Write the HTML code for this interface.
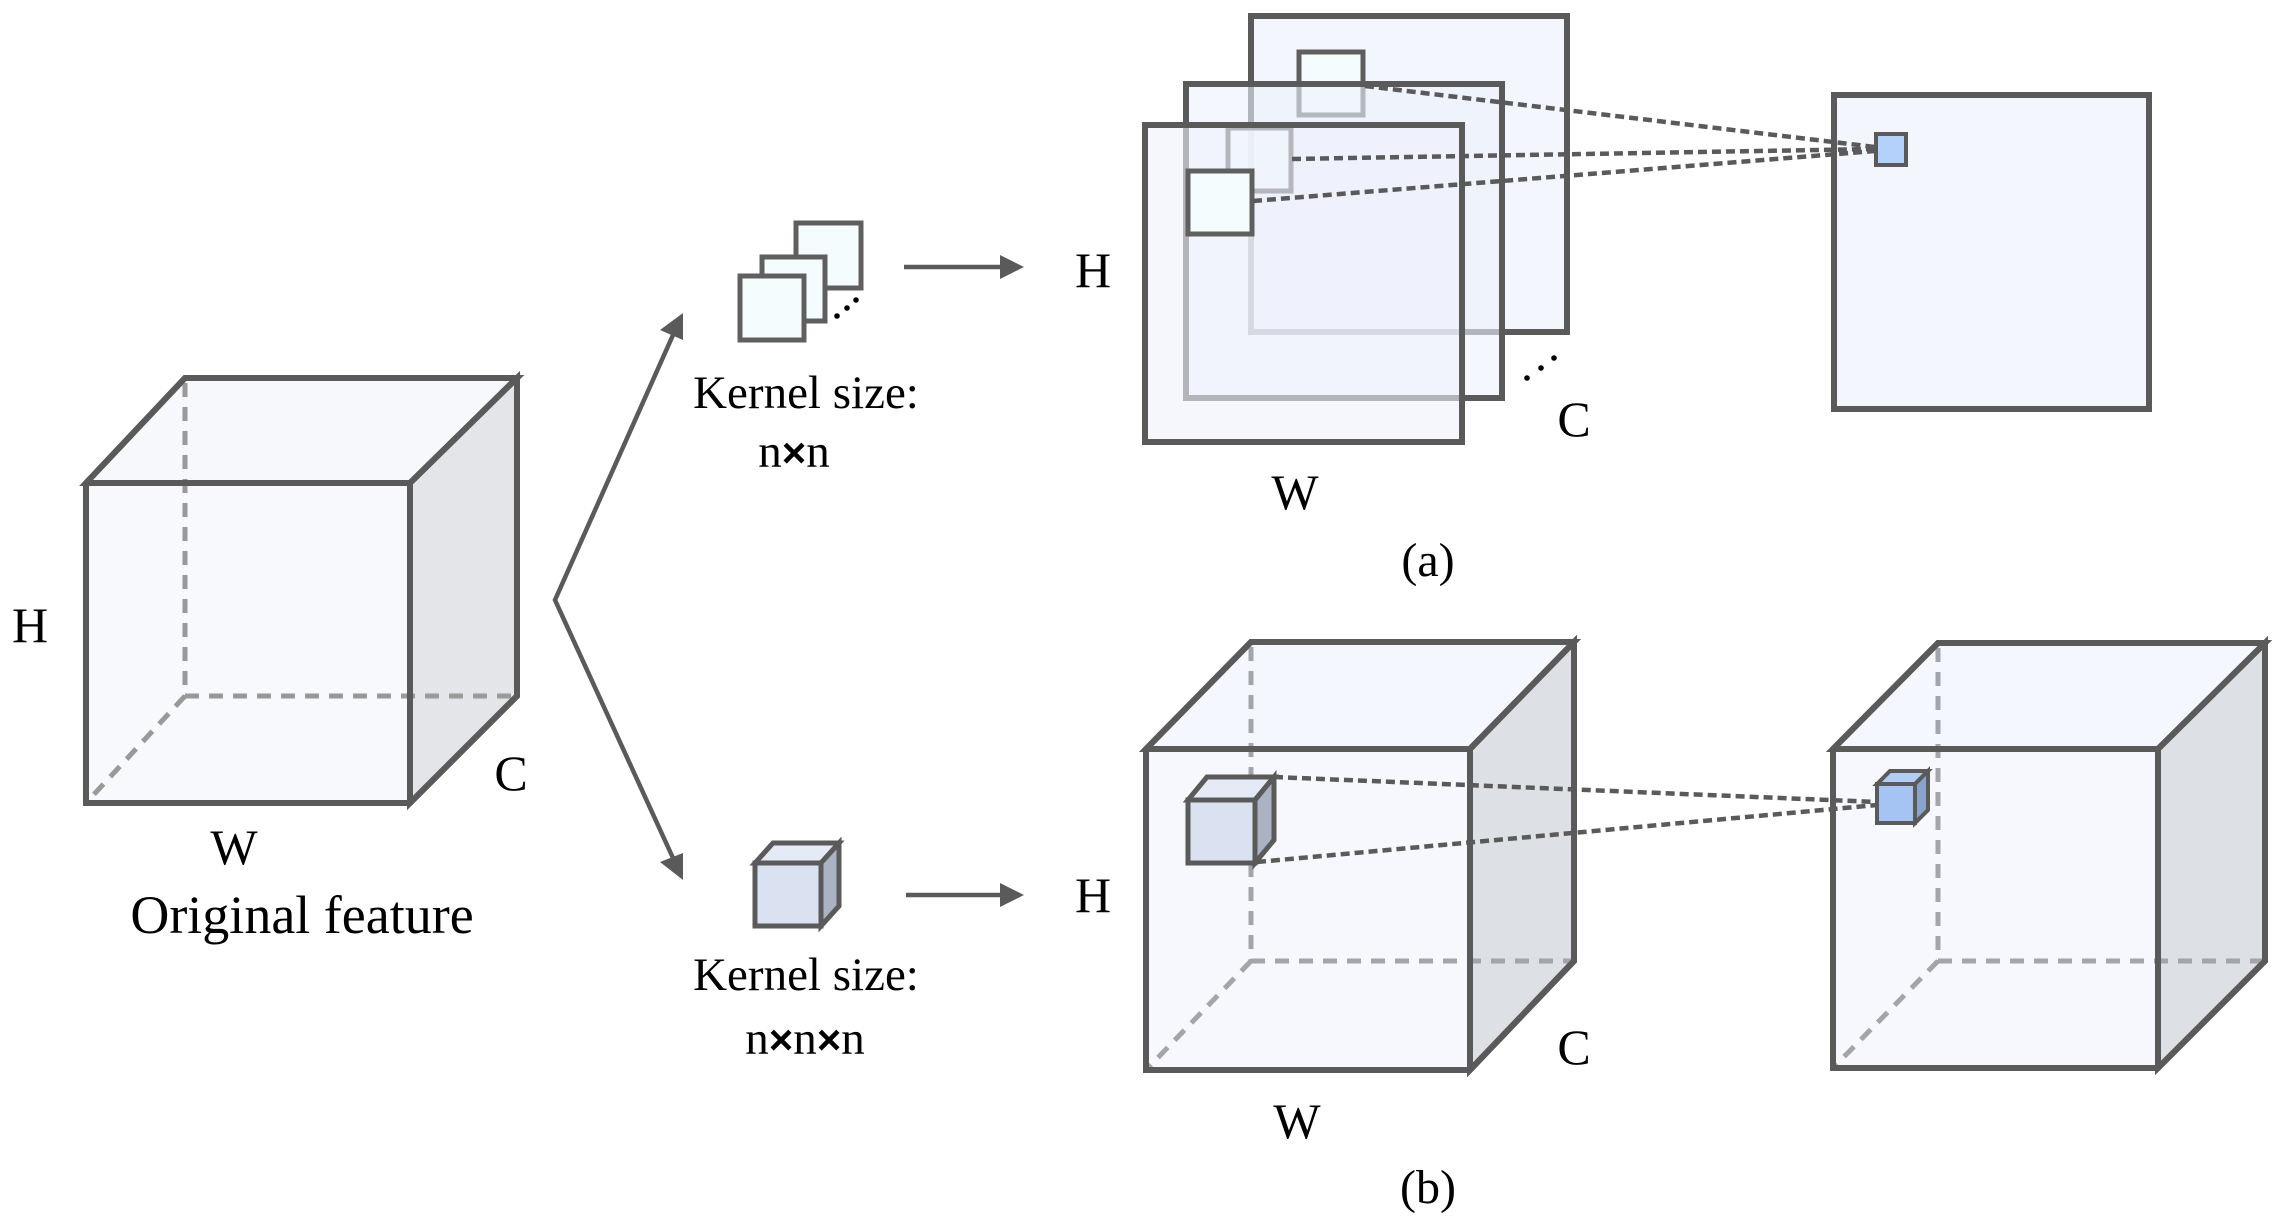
<!DOCTYPE html>
<html><head><meta charset="utf-8"><style>
html,body{margin:0;padding:0;background:#fff;}
svg{display:block;}
text{font-family:"Liberation Serif",serif;fill:#000;}
</style></head><body>
<svg width="2289" height="1225" viewBox="0 0 2289 1225" xmlns="http://www.w3.org/2000/svg">
<g stroke-linejoin="miter">
<!-- Original cube -->
<polygon points="86,483 185,378 517,378 410,483" fill="#f7f8fc" stroke="#5a5a5a" stroke-width="6"/>
<polygon points="410,483 517,378 517,696 410,803" fill="#e3e5e9" stroke="#5a5a5a" stroke-width="6"/>
<rect x="86" y="483" width="324" height="320" fill="#f7f8fc" fill-opacity="0.9" stroke="none"/>
<g stroke="#999" stroke-width="5" stroke-dasharray="14,10" fill="none">
<line x1="185" y1="383" x2="185" y2="696"/>
<line x1="185" y1="696" x2="517" y2="696"/>
<line x1="185" y1="696" x2="86" y2="803"/>
</g>
<polygon points="86,483 185,378 517,378 517,696 410,803 86,803" fill="none" stroke="#5a5a5a" stroke-width="6"/>
<polyline points="86,483 410,483 517,378" fill="none" stroke="#5a5a5a" stroke-width="6"/>
<line x1="410" y1="483" x2="410" y2="803" stroke="#5a5a5a" stroke-width="6"/>

<!-- branch arrows -->
<polyline points="673,335 555,600 673,858" fill="none" stroke="#5a5a5a" stroke-width="4.5"/>
<polygon points="683,313 683,340 660,330" fill="#5a5a5a"/>
<polygon points="683,880 683,853 660,862" fill="#5a5a5a"/>

<!-- kernels (a) -->
<rect x="796" y="223" width="65" height="65" fill="#f4fcfd" stroke="#5f5f5f" stroke-width="5"/>
<rect x="762" y="257" width="63" height="64" fill="#f4fcfd" stroke="#5f5f5f" stroke-width="5"/>
<rect x="740" y="276" width="64" height="64" fill="#f4fcfd" stroke="#5f5f5f" stroke-width="5"/>
<circle cx="837" cy="316" r="2.8" fill="#000"/><circle cx="847" cy="308" r="2.8" fill="#000"/><circle cx="856" cy="300" r="2.8" fill="#000"/>

<!-- arrow (a) -->
<line x1="904" y1="267" x2="1002" y2="267" stroke="#5a5a5a" stroke-width="4.5"/>
<polygon points="1024,267 1000,255 1000,279" fill="#5a5a5a"/>

<!-- planes (a) -->
<rect x="1251" y="16" width="316" height="316" fill="#f3f6fd" stroke="#5a5a5a" stroke-width="6"/>
<rect x="1299" y="52" width="64" height="63" fill="#f4fcfd" stroke="#5f5f5f" stroke-width="5"/>
<rect x="1186" y="84" width="316" height="314" fill="#edf1fb" fill-opacity="0.6" stroke="#5a5a5a" stroke-width="6"/>
<rect x="1228" y="128" width="63" height="63" fill="#f4fcfd" fill-opacity="0.7" stroke="#5f5f5f" stroke-width="5"/>
<rect x="1145" y="125" width="317" height="317" fill="#eef2fb" fill-opacity="0.6" stroke="#5a5a5a" stroke-width="6"/>
<rect x="1188" y="171" width="64" height="63" fill="#f4fcfd" stroke="#5f5f5f" stroke-width="5"/>
<circle cx="1527" cy="378" r="2.8" fill="#000"/><circle cx="1541" cy="368" r="2.8" fill="#000"/><circle cx="1554" cy="358" r="2.8" fill="#000"/>

<!-- result plane (a) -->
<rect x="1834" y="95" width="315" height="314" fill="#f3f6fd" stroke="#5a5a5a" stroke-width="6"/>
<rect x="1876" y="134" width="30" height="31" fill="#b3d1fa" stroke="#5a5a5a" stroke-width="4"/>
<g stroke="#5a5a5a" stroke-width="4.5" stroke-dasharray="9,5" fill="none">
<line x1="1365" y1="86" x2="1875" y2="147"/>
<line x1="1292" y1="159" x2="1875" y2="149"/>
<line x1="1253" y1="201" x2="1875" y2="151"/>
</g>

<!-- kernel cube (b) -->
<polygon points="755,863 773,843 839,843 821,863" fill="#e4eaf6" stroke="#5a5a5a" stroke-width="5"/>
<polygon points="821,863 839,843 839,906 821,926" fill="#aab2c3" stroke="#5a5a5a" stroke-width="5"/>
<rect x="755" y="863" width="66" height="63" fill="#dae2f2" stroke="#5a5a5a" stroke-width="5"/>

<!-- arrow (b) -->
<line x1="906" y1="895" x2="1002" y2="895" stroke="#5a5a5a" stroke-width="4.5"/>
<polygon points="1024,895 1000,883 1000,907" fill="#5a5a5a"/>

<!-- cube (b) -->
<polygon points="1146,749 1251,642 1574,642 1470,749" fill="#f4f7fd" stroke="#5a5a5a" stroke-width="6"/>
<polygon points="1470,749 1574,642 1574,961 1470,1070" fill="#dde0e5" stroke="#5a5a5a" stroke-width="6"/>
<rect x="1146" y="749" width="324" height="321" fill="#f4f7fd" fill-opacity="0.85"/>
<g stroke="#a3a5ab" stroke-width="5" stroke-dasharray="14,10" fill="none">
<line x1="1251" y1="647" x2="1251" y2="961"/>
<line x1="1251" y1="961" x2="1574" y2="961"/>
<line x1="1251" y1="961" x2="1146" y2="1070"/>
</g>
<polygon points="1146,749 1251,642 1574,642 1574,961 1470,1070 1146,1070" fill="none" stroke="#5a5a5a" stroke-width="6"/>
<polyline points="1146,749 1470,749 1574,642" fill="none" stroke="#5a5a5a" stroke-width="6"/>
<line x1="1470" y1="749" x2="1470" y2="1070" stroke="#5a5a5a" stroke-width="6"/>
<!-- inner kernel -->
<polygon points="1188,800 1207,777 1274,777 1255,800" fill="#e4eaf6" stroke="#5a5a5a" stroke-width="5"/>
<polygon points="1255,800 1274,777 1274,840 1255,863" fill="#aab2c3" stroke="#5a5a5a" stroke-width="5"/>
<rect x="1188" y="800" width="67" height="63" fill="#dae2f2" stroke="#5a5a5a" stroke-width="5"/>

<!-- result cube (b) -->
<polygon points="1833,749 1938,643 2265,643 2158,749" fill="#f4f7fd" stroke="#5a5a5a" stroke-width="6"/>
<polygon points="2158,749 2265,643 2265,961 2158,1068" fill="#dde0e5" stroke="#5a5a5a" stroke-width="6"/>
<rect x="1833" y="749" width="325" height="319" fill="#f4f7fd" fill-opacity="0.85"/>
<g stroke="#a3a5ab" stroke-width="5" stroke-dasharray="14,10" fill="none">
<line x1="1938" y1="648" x2="1938" y2="961"/>
<line x1="1938" y1="961" x2="2265" y2="961"/>
<line x1="1938" y1="961" x2="1833" y2="1068"/>
</g>
<polygon points="1833,749 1938,643 2265,643 2265,961 2158,1068 1833,1068" fill="none" stroke="#5a5a5a" stroke-width="6"/>
<polyline points="1833,749 2158,749 2265,643" fill="none" stroke="#5a5a5a" stroke-width="6"/>
<line x1="2158" y1="749" x2="2158" y2="1068" stroke="#5a5a5a" stroke-width="6"/>
<polygon points="1877,784 1890,771 1928,771 1915,784" fill="#b3cdf3" stroke="#5a5a5a" stroke-width="4"/>
<polygon points="1915,784 1928,771 1928,810 1915,823" fill="#8aa3cc" stroke="#5a5a5a" stroke-width="4"/>
<rect x="1877" y="784" width="38" height="39" fill="#a5c3f3" stroke="#5a5a5a" stroke-width="4"/>

<g stroke="#5a5a5a" stroke-width="4.5" stroke-dasharray="9,5" fill="none">
<line x1="1274" y1="777" x2="1877" y2="802"/>
<line x1="1257" y1="862" x2="1877" y2="805"/>
</g>
</g>

<!-- labels -->
<text x="30" y="642" font-size="50" text-anchor="middle">H</text>
<text x="511" y="790" font-size="50" text-anchor="middle">C</text>
<text x="234" y="864" font-size="50" text-anchor="middle">W</text>
<text x="302" y="933" font-size="54" text-anchor="middle">Original feature</text>

<text x="806" y="408" font-size="47" text-anchor="middle">Kernel size:</text>
<text x="794" y="467" font-size="47" text-anchor="middle">n<tspan font-family="Liberation Sans, sans-serif" font-weight="bold" font-size="42">×</tspan>n</text>
<text x="1093" y="287" font-size="50" text-anchor="middle">H</text>
<text x="1574" y="436" font-size="50" text-anchor="middle">C</text>
<text x="1295" y="509" font-size="50" text-anchor="middle">W</text>
<text x="1428" y="576" font-size="48" text-anchor="middle">(a)</text>

<text x="806" y="990" font-size="47" text-anchor="middle">Kernel size:</text>
<text x="805" y="1054" font-size="47" text-anchor="middle">n<tspan font-family="Liberation Sans, sans-serif" font-weight="bold" font-size="42">×</tspan>n<tspan font-family="Liberation Sans, sans-serif" font-weight="bold" font-size="42">×</tspan>n</text>
<text x="1093" y="912" font-size="50" text-anchor="middle">H</text>
<text x="1574" y="1064" font-size="50" text-anchor="middle">C</text>
<text x="1297" y="1138" font-size="50" text-anchor="middle">W</text>
<text x="1428" y="1203" font-size="48" text-anchor="middle">(b)</text>
</svg>
</body></html>
